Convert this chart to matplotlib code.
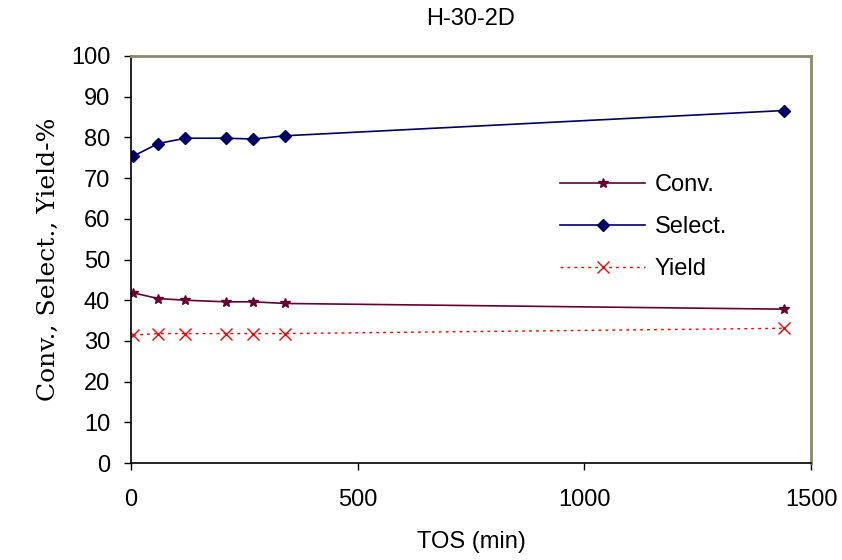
import matplotlib
matplotlib.use('Agg')
import matplotlib.pyplot as plt

# data
tos = [5, 60, 120, 210, 270, 340, 1440]
conv = [41.8, 40.4, 40.0, 39.6, 39.6, 39.2, 37.8]
select = [75.4, 78.5, 79.8, 79.8, 79.6, 80.4, 86.6]
yld = [31.4, 31.8, 31.8, 31.8, 31.8, 31.8, 33.1]

plt.rcParams['font.family'] = ['Liberation Sans', 'DejaVu Sans']

fig = plt.figure(figsize=(8.42, 5.6), dpi=100)
ax = fig.add_axes([0.1556, 0.1732, 0.8076, 0.7268])

ax.plot(tos, conv, color='#660033', lw=1.2, marker='*', ms=7, label='Conv.')
ax.plot(tos, select, color='#000066', lw=1.2, marker='D', ms=6, label='Select.')
ax.plot(tos, yld, color='#ff0000', lw=1, ls=(0, (2, 3)), marker='x', ms=9,
        mew=1, label='Yield')

ax.set_xlim(0, 1500)
ax.set_ylim(0, 100)
ax.set_xticks([0, 500, 1000, 1500])
ax.set_yticks(range(0, 101, 10))
ax.tick_params(labelsize=17, direction='out', length=5, width=1, pad=10)
ax.tick_params(axis='x', pad=14)

for s in ['top', 'right']:
    ax.spines[s].set_color('#8a8a70')
    ax.spines[s].set_linewidth(2)
for s in ['left', 'bottom']:
    ax.spines[s].set_color('black')
    ax.spines[s].set_linewidth(1.2)

ax.set_title('H-30-2D', fontsize=17, pad=22)
ax.set_xlabel('TOS (min)', fontsize=17, labelpad=14)
ax.set_ylabel('Conv., Select., Yield-%', fontsize=18, family='DejaVu Serif',
              labelpad=8)

ax.legend(loc='center left', bbox_to_anchor=(0.6, 0.58), frameon=False,
          fontsize=17, handlelength=3.6, labelspacing=0.85, handletextpad=0.4)

fig.savefig('out.png', dpi=100)
